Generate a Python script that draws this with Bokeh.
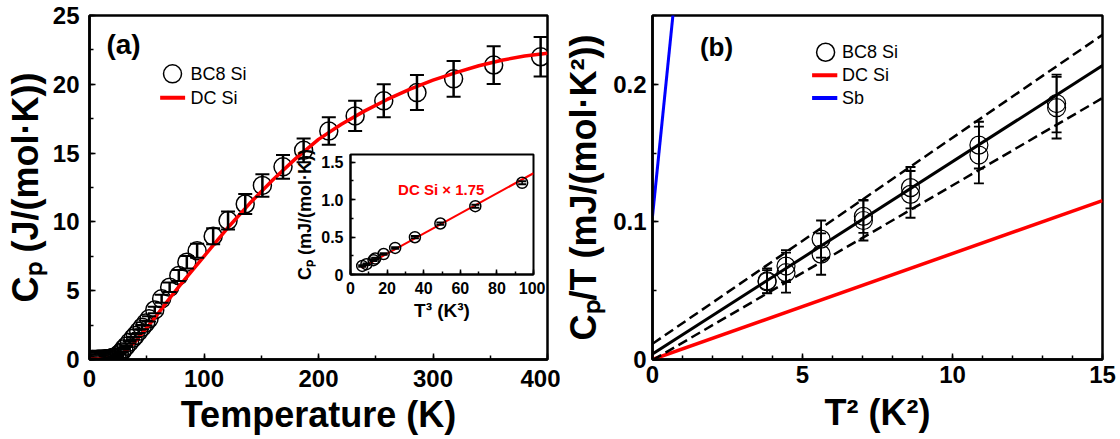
from bokeh.plotting import figure
from bokeh.layouts import row
from bokeh.models import Range1d, SingleIntervalTicker, Whisker, TeeHead, ColumnDataSource, Label
from bokeh.embed import file_html
from bokeh.resources import INLINE

FONT = "Liberation Sans"

# ---------------- data, panel (a) ----------------
bc8_T = [2, 3, 4, 5, 6, 7, 8, 9, 10, 11, 12, 13, 14, 15, 16, 17, 18, 19, 20, 21,
         22, 24, 26, 28, 30, 32, 35, 38, 40, 43, 46, 49, 52, 57, 63, 70, 78, 85, 94,
         108, 121, 136, 151, 169, 187, 209, 232, 257, 286, 318, 353, 394]
bc8_cp = [0.00, 0.00, 0.00, 0.00, 0.00, 0.01, 0.01, 0.01, 0.01, 0.02, 0.02, 0.03, 0.04, 0.05, 0.06, 0.07, 0.08, 0.10, 0.12, 0.14,
          0.17, 0.28, 0.41, 0.55, 0.78, 0.97, 1.26, 1.55, 1.74, 2.05, 2.35, 2.65, 2.96, 3.60, 4.41, 5.25, 6.10, 7.07, 7.90,
          8.96, 10.10, 11.30, 12.65, 14.00, 15.20, 16.60, 17.70, 18.80, 19.40, 20.40, 21.40, 22.00]
bc8_err = [0, 0, 0, 0, 0, 0, 0, 0, 0, 0, 0, 0, 0, 0, 0, 0.01, 0.01, 0.01, 0.01, 0.01,
           0.01, 0.02, 0.03, 0.04, 0.05, 0.06, 0.08, 0.10, 0.11, 0.13, 0.15, 0.17, 0.19, 0.23, 0.29, 0.34, 0.40, 0.46, 0.51,
           0.58, 0.66, 0.73, 0.82, 0.87, 0.87, 1.00, 1.10, 1.20, 1.27, 1.30, 1.37, 1.43]

dc_T = [0, 10, 20, 30, 40, 50, 60, 70, 80, 90, 100, 120, 140, 160, 180, 200, 220, 240, 260, 280, 300, 320, 340, 360, 380, 400]
dc_cp = [0, 0.01, 0.12, 0.50, 1.30, 2.30, 3.35, 4.45, 5.50, 6.50, 7.50, 9.50, 11.35, 13.05, 14.60, 16.00, 17.10, 18.05, 18.90,
         19.65, 20.30, 20.85, 21.35, 21.75, 22.05, 22.25]

# inset
ins_T3 = [6.4, 8.7, 12.6, 13.5, 18.1, 24.4, 35.2, 49.1, 68.2, 93.8]
ins_cp = [0.114, 0.138, 0.191, 0.213, 0.273, 0.354, 0.497, 0.680, 0.911, 1.223]
ins_err = [0.01, 0.01, 0.01, 0.01, 0.01, 0.01, 0.015, 0.015, 0.02, 0.02]
ins_dc_x = [6, 100]
ins_dc_y = [0.09, 1.35]

# ---------------- data, panel (b) ----------------
t2 = [3.82, 4.45, 5.62, 7.03, 8.60, 10.88, 13.47]
cpT_1 = [0.0572, 0.0679, 0.0875, 0.1040, 0.1249, 0.1558, 0.1860]
err_1 = [0.0090, 0.0116, 0.0135, 0.0120, 0.0150, 0.0170, 0.0210]
cpT_2 = [0.0565, 0.0631, 0.0766, 0.1010, 0.1200, 0.1486, 0.1830]
err_2 = [0.0085, 0.0145, 0.0150, 0.0145, 0.0170, 0.0206, 0.0224]

line_x = [0, 15]
fit_y = [0.0040, 0.2137]
upper_y = [0.0114, 0.2360]
lower_y = [-0.0005, 0.1900]
dcb_y = [0.0, 0.1155]
sb_x = [0, 0.75]
sb_y = [0.104, 0.265]


def style(p, tick_size="24px", label_size="36px", lw=2.5, tin=6, mtin=4, lstand=10, astand=4):
    p.grid.visible = False
    p.outline_line_color = "black"
    p.outline_line_width = lw
    p.outline_line_alpha = 1
    p.background_fill_color = "white"
    for ax in (p.xaxis[0], p.yaxis[0]):
        ax.axis_line_width = lw
        ax.axis_line_color = "black"
        ax.major_tick_in = tin
        ax.major_tick_out = 0
        ax.minor_tick_in = mtin
        ax.minor_tick_out = 0
        ax.major_tick_line_width = 1.5
        ax.minor_tick_line_width = 1.5
        ax.major_label_text_font = FONT
        ax.major_label_text_font_style = "bold"
        ax.major_label_text_font_size = tick_size
        ax.major_label_text_color = "black"
        ax.major_label_standoff = lstand
        ax.axis_label_text_font = FONT
        ax.axis_label_text_font_style = "bold"
        ax.axis_label_text_font_size = label_size
        ax.axis_label_text_color = "black"
        ax.axis_label_standoff = astand


def errorbars(p, x, y, e, lw, head, hlw):
    src = ColumnDataSource(dict(x=x, up=[a + b for a, b in zip(y, e)], lo=[a - b for a, b in zip(y, e)]))
    w = Whisker(source=src, base="x", upper="up", lower="lo", line_width=lw, line_color="black",
                upper_head=TeeHead(size=head, line_width=hlw, line_color="black"),
                lower_head=TeeHead(size=head, line_width=hlw, line_color="black"), level="glyph")
    p.add_layout(w)


# ================= panel (a) =================
pa = figure(width=560, height=439, output_backend="svg", toolbar_location=None,
            x_range=Range1d(0, 400), y_range=Range1d(0, 25),
            min_border_left=89, min_border_right=13, min_border_top=15, min_border_bottom=80)
pa.border_fill_color = "white"
style(pa)
pa.xaxis.ticker = SingleIntervalTicker(interval=100, num_minor_ticks=2)
pa.yaxis.ticker = SingleIntervalTicker(interval=5, num_minor_ticks=2)
pa.xaxis.axis_label = "Temperature (K)"
pa.yaxis.axis_label = "Cₚ (J/(mol·K))"

pa.scatter(bc8_T, bc8_cp, marker="circle", size=18, fill_color=None, line_color="black", line_width=1.5)
errorbars(pa, bc8_T, bc8_cp, bc8_err, 2.5, 14, 2)
pa.line(dc_T, dc_cp, line_color="red", line_width=3.5)

# legend (a)
pa.scatter([72.5], [20.76], marker="circle", size=18, fill_color=None, line_color="black", line_width=1.5)
pa.line([61.7, 83.5], [19.02, 19.02], line_color="red", line_width=4)
pa.add_layout(Label(x=88.2, y=20.76, text="BC8 Si", text_font=FONT, text_font_size="18px",
                    text_baseline="middle", text_color="black"))
pa.add_layout(Label(x=88.2, y=19.02, text="DC Si", text_font=FONT, text_font_size="18px",
                    text_baseline="middle", text_color="black"))
pa.add_layout(Label(x=14.8, y=22.87, text="(a)", text_font=FONT, text_font_size="28px",
                    text_font_style="bold", text_baseline="middle", text_color="black"))

# ================= inset =================
ins = figure(width=253, height=215, output_backend="svg", toolbar_location=None,
             x_range=Range1d(0, 100), y_range=Range1d(0, 1.6),
             min_border_left=56, min_border_right=12, min_border_top=15, min_border_bottom=50,
             styles={"position": "absolute", "left": "292px", "top": "139px"})
ins.border_fill_alpha = 0
style(ins, tick_size="16px", label_size="18px", lw=2, tin=5, mtin=3, lstand=7, astand=3)
ins.xaxis.ticker = SingleIntervalTicker(interval=20, num_minor_ticks=2)
ins.yaxis.ticker = SingleIntervalTicker(interval=0.5, num_minor_ticks=2)
ins.yaxis.major_label_overrides = {0: "0", 1: "1.0"}
ins.xaxis.axis_label = "T³ (K³)"
ins.xaxis.axis_label_text_font_size = "19px"
ins.yaxis.axis_label = "Cₚ (mJ/(mol·K))"
ins.line(ins_dc_x, ins_dc_y, line_color="red", line_width=2)
ins.scatter(ins_T3, ins_cp, marker="circle", size=11, fill_color=None, line_color="black", line_width=1.5)
errorbars(ins, ins_T3, ins_cp, ins_err, 1.5, 8, 2)
ins.add_layout(Label(x=49.6, y=1.14, text="DC Si × 1.75", text_font=FONT, text_font_size="15px",
                     text_font_style="bold", text_align="center", text_baseline="middle", text_color="red"))

# ================= panel (b) =================
pb = figure(width=560, height=439, output_backend="svg", toolbar_location=None,
            x_range=Range1d(0, 15), y_range=Range1d(0, 0.25),
            min_border_left=92, min_border_right=18, min_border_top=13, min_border_bottom=80)
pb.border_fill_color = "white"
style(pb, lstand=6, astand=6)
pb.xaxis.ticker = SingleIntervalTicker(interval=5, num_minor_ticks=5)
pb.yaxis.ticker = SingleIntervalTicker(interval=0.1, num_minor_ticks=2)
pb.yaxis.major_label_overrides = {0: "0"}
pb.xaxis.axis_label = "T² (K²)"
pb.yaxis.axis_label = "Cₚ/T (mJ/(mol·K²))"

pb.line(line_x, dcb_y, line_color="red", line_width=3.5)
pb.line(sb_x, sb_y, line_color="blue", line_width=3)
pb.line(line_x, upper_y, line_color="black", line_width=2.5, line_dash="10 5")
pb.line(line_x, lower_y, line_color="black", line_width=2.5, line_dash="10 5")
pb.line(line_x, fit_y, line_color="black", line_width=3)
pb.scatter(t2, cpT_1, marker="circle", size=18, fill_color=None, line_color="black", line_width=1.2)
pb.scatter(t2, cpT_2, marker="circle", size=18, fill_color=None, line_color="black", line_width=1.2)
errorbars(pb, t2, cpT_1, err_1, 1.8, 10, 1.8)
errorbars(pb, t2, cpT_2, err_2, 1.8, 10, 1.8)

# legend (b)
pb.scatter([5.77], [0.2233], marker="circle", size=18, fill_color=None, line_color="black", line_width=1.5)
pb.line([5.32, 6.16], [0.2066, 0.2066], line_color="red", line_width=4)
pb.line([5.32, 6.16], [0.1900, 0.1900], line_color="blue", line_width=4)
for yy, tt in ((0.2233, "BC8 Si"), (0.2066, "DC Si"), (0.1900, "Sb")):
    pb.add_layout(Label(x=6.32, y=yy, text=tt, text_font=FONT, text_font_size="18px",
                        text_baseline="middle", text_color="black"))
pb.add_layout(Label(x=1.58, y=0.2269, text="(b)", text_font=FONT, text_font_size="26px",
                    text_font_style="bold", text_baseline="middle", text_color="black"))

layout = row(pa, pb, ins)
open("out.html", "w").write(file_html(layout, INLINE))
